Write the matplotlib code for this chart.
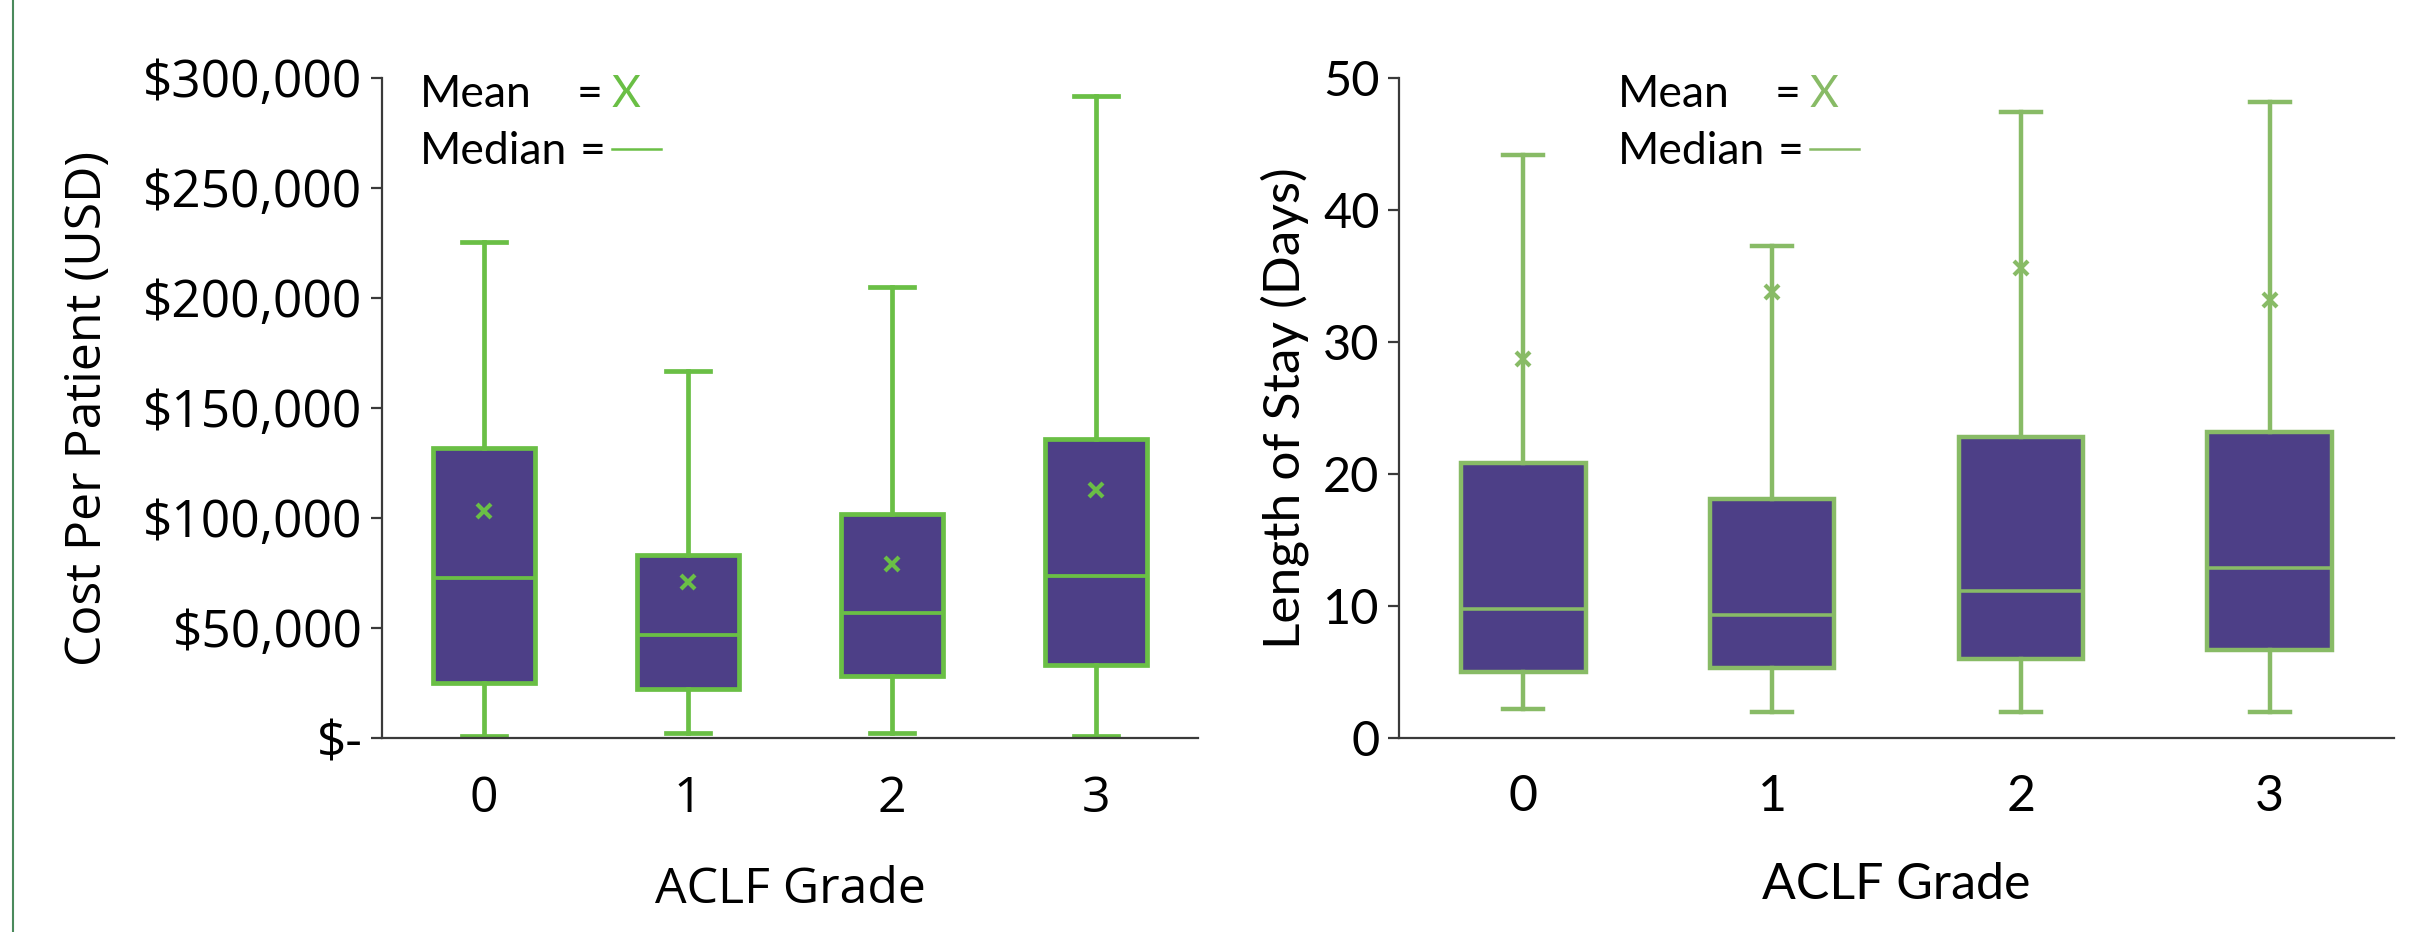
import matplotlib
matplotlib.use("Agg")
import matplotlib.pyplot as plt
from matplotlib.lines import Line2D
from matplotlib.ticker import FuncFormatter

# ACLF grades
grades = ["0", "1", "2", "3"]

# cost per patient (USD)
cost_lo = [1000, 2100, 2100, 700]
cost_q1 = [25200, 22400, 28000, 33000]
cost_med = [72800, 47000, 56700, 73500]
cost_q3 = [131600, 83300, 102000, 136000]
cost_hi = [225500, 167000, 205000, 292000]
cost_mean = [103000, 70700, 79000, 112700]

# length of stay (days)
stay_lo = [2.2, 2.0, 2.0, 2.0]
stay_q1 = [5.0, 5.3, 6.0, 6.7]
stay_med = [9.8, 9.3, 11.1, 12.9]
stay_q3 = [20.8, 18.1, 22.8, 23.2]
stay_hi = [44.2, 37.3, 47.4, 48.2]
stay_mean = [28.7, 33.8, 35.6, 33.2]

W, H = 2413, 932
PURPLE = "#4d3f87"


def fx(px):
    return px / W


def fy(py):
    return 1 - py / H


def make_stats(lo, q1, med, q3, hi, mean):
    return [{"whislo": lo[i], "q1": q1[i], "med": med[i], "q3": q3[i],
             "whishi": hi[i], "mean": mean[i], "label": grades[i]}
            for i in range(len(grades))]


def draw_panel(ax, stats, green, capw, font, lw):
    ax.bxp(stats, positions=range(len(grades)), widths=0.5, patch_artist=True,
           showmeans=True, showfliers=False, capwidths=capw,
           boxprops=dict(facecolor=PURPLE, edgecolor=green, linewidth=lw),
           medianprops=dict(color=green, linewidth=lw * 0.8),
           whiskerprops=dict(color=green, linewidth=lw),
           capprops=dict(color=green, linewidth=lw),
           meanprops=dict(marker="x", markeredgecolor=green, markersize=10,
                          markeredgewidth=3))
    ax.set_xlim(-0.5, 3.5)
    for s in ["top", "right"]:
        ax.spines[s].set_visible(False)
    for s in ["left", "bottom"]:
        ax.spines[s].set_color("#3a3a3a")
        ax.spines[s].set_linewidth(1.6)
    ax.tick_params(axis="x", length=0, pad=26)
    ax.tick_params(axis="y", length=8, width=1.6, color="#3a3a3a", pad=6)
    for lab in ax.get_xticklabels():
        lab.set_fontfamily(font)
        lab.set_fontsize(36)
    ax.set_xlabel("ACLF Grade", fontfamily=font, fontsize=36, labelpad=30)


def legend(x0, green, xeq, xsym):
    fig.text(fx(x0), fy(107), "Mean", fontfamily="Lato", fontsize=32, va="baseline")
    fig.text(fx(xeq), fy(107), "=", fontfamily="Lato", fontsize=32, va="baseline")
    fig.text(fx(xsym), fy(107), "X", fontfamily="Lato", fontsize=32,
             va="baseline", color=green)
    fig.text(fx(x0), fy(164), "Median", fontfamily="Lato", fontsize=32, va="baseline")
    fig.text(fx(xeq + 3), fy(164), "=", fontfamily="Lato", fontsize=32, va="baseline")
    fig.add_artist(Line2D([fx(xsym), fx(xsym + 49)], [fy(149), fy(149)],
                          color=green, linewidth=1.8))


fig = plt.figure(figsize=(W / 100, H / 100), dpi=100)

# left panel: cost
GREEN_L = "#6abf45"
ax1 = fig.add_axes([fx(382), fy(738), fx(1198 - 382), (738 - 78) / H])
draw_panel(ax1, make_stats(cost_lo, cost_q1, cost_med, cost_q3, cost_hi, cost_mean),
           GREEN_L, 0.22, "Open Sans", 3.4)
ax1.set_ylim(0, 300000)
ax1.set_yticks(range(0, 300001, 50000))
ax1.yaxis.set_major_formatter(FuncFormatter(lambda v, p: "$-" if v == 0 else f"${v:,.0f}"))
for lab in ax1.get_yticklabels():
    lab.set_fontfamily("Open Sans")
    lab.set_fontsize(37)
ax1.set_ylabel("Cost Per Patient (USD)", fontfamily="Open Sans", fontsize=36, labelpad=22)
legend(420, GREEN_L, 577, 612)

# right panel: length of stay
GREEN_R = "#88bb66"
ax2 = fig.add_axes([fx(1399), fy(738), fx(2394 - 1399), (738 - 78) / H])
draw_panel(ax2, make_stats(stay_lo, stay_q1, stay_med, stay_q3, stay_hi, stay_mean),
           GREEN_R, 0.16, "Lato", 3.2)
ax2.set_ylim(0, 50)
ax2.set_yticks(range(0, 51, 10))
for lab in ax2.get_yticklabels():
    lab.set_fontfamily("Lato")
    lab.set_fontsize(35)
ax2.set_ylabel("Length of Stay (Days)", fontfamily="Lato", fontsize=37, labelpad=10)
legend(1618, GREEN_R, 1775, 1810)

# thin border line at the left edge
fig.add_artist(Line2D([fx(13), fx(13)], [0, 1], color="#4b8a5c", linewidth=1.5))

fig.savefig("out.png", dpi=100, facecolor="white")
